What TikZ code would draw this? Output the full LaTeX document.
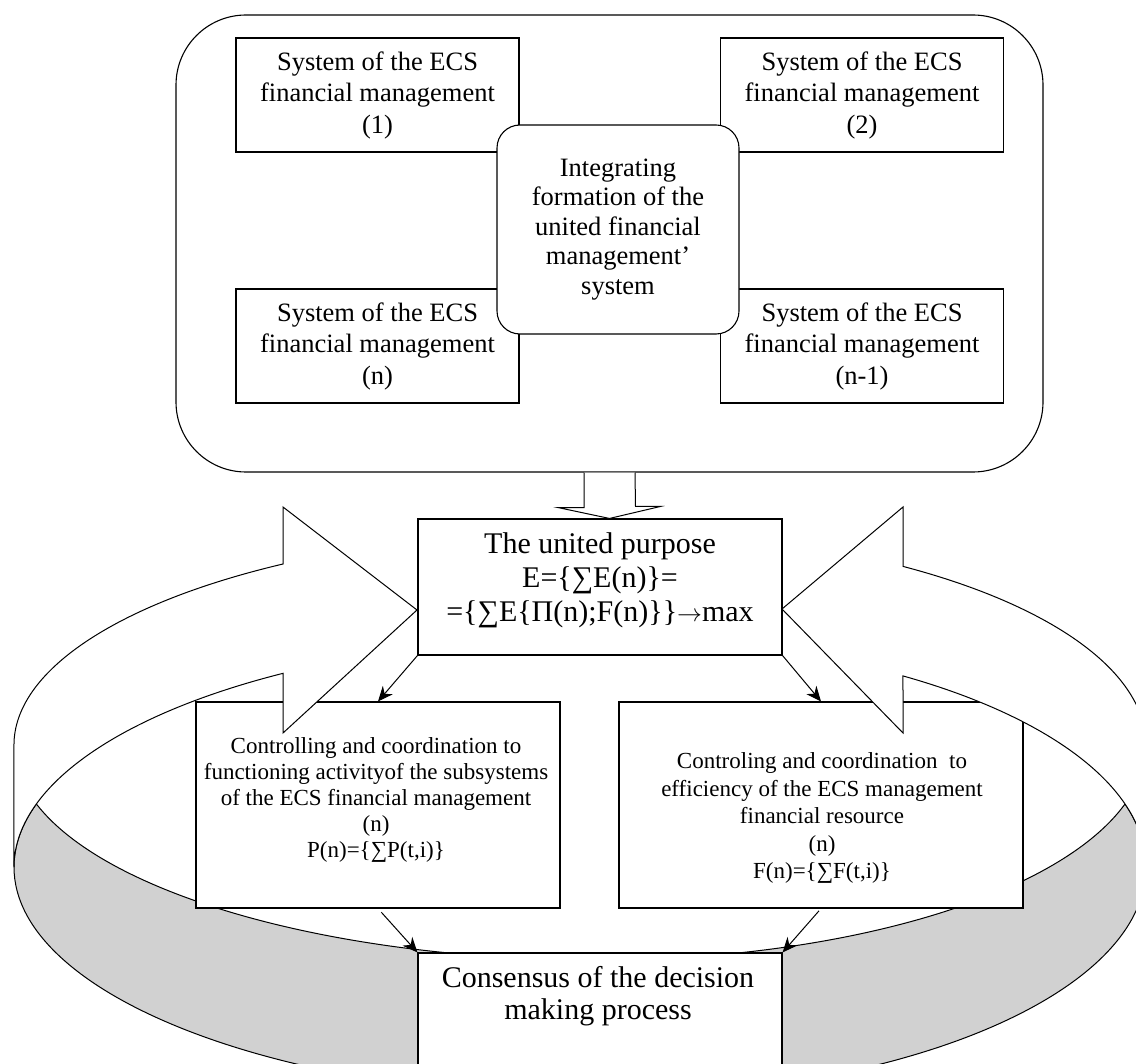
\documentclass[tikz,border=0pt]{standalone}
\usepackage{fontspec}
\setmainfont{Liberation Serif}
\usepackage{tikz}
\usetikzlibrary{arrows.meta}

\begin{document}
\begin{tikzpicture}[x=1pt, y=-1pt]
\tikzstyle{frame} = [rectangle, rounded corners=70pt, minimum width=867pt, minimum height=457pt, draw=black, line width=1.1pt]
\tikzstyle{sysbox} = [rectangle, minimum width=283pt, minimum height=114pt, inner sep=0pt, align=center, draw=black, fill=white, line width=1.1pt, font=\fontsize{26.5}{31.5}\selectfont]
\tikzstyle{hub} = [rectangle, rounded corners=23pt, minimum width=242pt, minimum height=209pt, inner sep=0pt, align=center, draw=black, fill=white, line width=1.1pt, font=\fontsize{26.5}{29.5}\selectfont]
\tikzstyle{box} = [rectangle, inner sep=0pt, draw=black, fill=white, line width=1.1pt]
\tikzstyle{txt} = [align=center, inner sep=0pt]
\tikzstyle{ring} = [draw=black, line width=1pt, fill=white]
\tikzstyle{side} = [draw=black, line width=1pt, fill=black!18]
\tikzstyle{arrow} = [line width=1pt, -{Stealth[length=15pt, width=13pt]}]

\useasboundingbox (0,0) rectangle (1136,1064);
\clip (0,0) rectangle (1136,1064);

% Ring (front side)
\draw[side] (36.4,804) arc[start angle=164.1, end angle=90, x radius=584, y radius=215]
  -- (598,1097) arc[start angle=90, end angle=180, x radius=584, y radius=230]
  arc[start angle=180, end angle=195.9, x radius=584, y radius=230] -- cycle;
\draw[side] (1125,804) arc[start angle=15.9, end angle=90, x radius=548, y radius=215]
  -- (598,1097) arc[start angle=90, end angle=0, x radius=548, y radius=230]
  arc[start angle=0, end angle=-15.9, x radius=548, y radius=230] -- cycle;

% Nodes
\node (ctrlP) [box, minimum width=364pt, minimum height=206pt] at (378,805) {};
\node (ctrlPtxt) [txt, font=\fontsize{23}{26}\selectfont] at (376,800) {Controlling and coordination to\\functioning activityof the subsystems\\of the ECS financial management\\(n)\\P(n)=\{∑P(t,i)\}};
\node (ctrlF) [box, minimum width=404pt, minimum height=206pt] at (821,805) {};
\node (ctrlFtxt) [txt, font=\fontsize{23}{27.5}\selectfont] at (822,818) {Controling and coordination \ to\\efficiency of the ECS management\\financial resource\\(n)\\F(n)=\{∑F(t,i)\}};

% Ring (back side with heads)
\draw[ring] (283,564) arc[start angle=237.36, end angle=180, x radius=584, y radius=215]
  -- (14,867) arc[start angle=180, end angle=237.36, x radius=584, y radius=230]
  -- (283,733) -- (417,610) -- (283,507) -- cycle;
\draw[ring] (903,566.4) arc[start angle=303.82, end angle=360, x radius=548, y radius=215]
  -- (1146,867) arc[start angle=360, end angle=303.82, x radius=548, y radius=230]
  -- (903,733) -- (782,609) -- (903,507) -- cycle;

\node (consensus) [box, minimum width=364pt, minimum height=137pt] at (600,1021.5) {};
\node (consensustxt) [txt, font=\fontsize{30}{32}\selectfont] at (598,996) {Consensus of the decision\\making process};

\node (frame) [frame] at (609.5,243.5) {};
\node (sys1) [sysbox] at (377.5,95) {System of the ECS\\financial management\\(1)};
\node (sys2) [sysbox] at (862,95) {System of the ECS\\financial management\\(2)};
\node (sysn) [sysbox] at (377.5,346) {System of the ECS\\financial management\\(n)};
\node (sysn1) [sysbox] at (862,346) {System of the ECS\\financial management\\(n-1)};
\node (hub) [hub] at (618,229.5) {Integrating\\formation of the\\united financial\\management’\\system};

\node (purpose) [box, minimum width=364pt, minimum height=136pt] at (600,587) {};
\node (purposetxt) [txt, font=\fontsize{30}{34}\selectfont] at (600,580) {The united purpose\\E=\{∑E(n)\}=\\=\{∑E\{Π(n);F(n)\}\}\(\rightarrow\)max};

% Arrows
\draw[ring] ([xshift=-25.5pt]frame.south) -- ++(0,35) -- ++(-26,0) -- (frame.south |- purpose.north)
  -- ++(51,-12) -- ++(-25,0) -- ([xshift=25.5pt]frame.south);
\draw [arrow] (purpose.south west) -- (ctrlP.north);
\draw [arrow] (purpose.south east) -- (ctrlF.north);
\draw [arrow, shorten <=5pt] (ctrlP.south) -- (consensus.north west);
\draw [arrow, shorten <=3pt] (ctrlF.south) -- (consensus.north east);

\end{tikzpicture}
\end{document}
